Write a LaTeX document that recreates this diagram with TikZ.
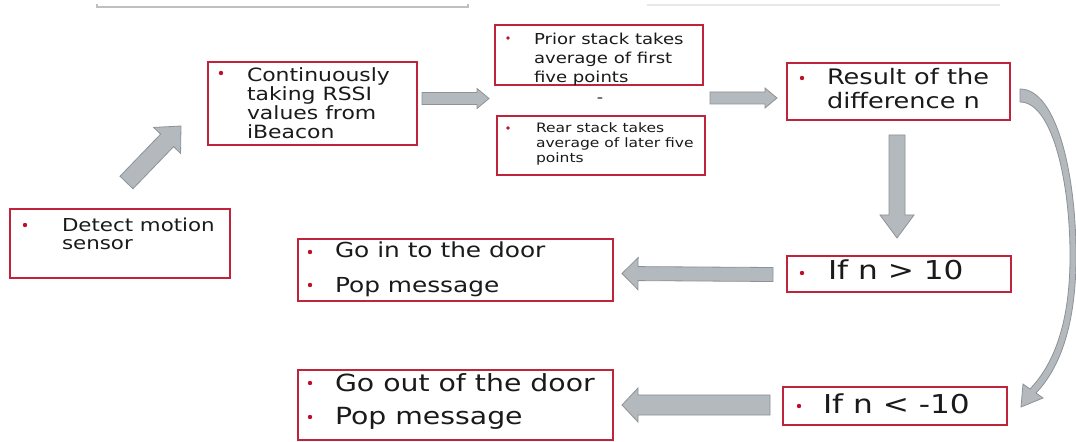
\documentclass[tikz,border=0pt]{standalone}
\usepackage{fontspec}
\setmainfont{DejaVu Sans}[FakeStretch=1.2]
\usetikzlibrary{fit,calc}
\definecolor{boxred}{RGB}{192,36,58}
\definecolor{bulred}{RGB}{192,16,40}
\definecolor{txtc}{RGB}{26,26,26}
\definecolor{afill}{RGB}{180,185,189}
\definecolor{aline}{RGB}{140,146,151}
\newcommand\fs[2]{\fontsize{#1pt}{#2pt}\selectfont}
\newcommand\ls[1]{\begin{tabular}[t]{@{}l@{}}#1\end{tabular}}
% block arrow: start, end, shaft half width, head half width, head length
\newcommand\blk[5]{%
  \coordinate (ba-s) at (#1);
  \coordinate (ba-e) at (#2);
  \coordinate (ba-b) at ($(ba-e)!#5!(ba-s)$);
  \filldraw[blkstyle] ($(ba-s)!#3!90:(ba-e)$) -- ($(ba-b)!#3!90:(ba-e)$)
    -- ($(ba-b)!#4!90:(ba-e)$) -- (ba-e) -- ($(ba-b)!#4!-90:(ba-e)$)
    -- ($(ba-b)!#3!-90:(ba-e)$) -- ($(ba-s)!#3!-90:(ba-e)$) -- cycle;}
\tikzset{
  box/.style={draw=boxred, line width=1.5pt, inner sep=0pt, outer sep=0pt},
  txtn/.style={anchor=base west, inner sep=0pt, outer sep=0pt, text=txtc},
  bul/.style={fill=bulred},
  blkstyle/.style={fill=afill, draw=aline, line width=0.6pt, line join=miter},
  topline/.style={draw=black!25, line width=1.2pt},
  topline2/.style={draw=black!9, line width=1.5pt},
}
\begin{document}
\begin{tikzpicture}[x=0.75pt,y=-0.75pt]
\useasboundingbox (0,0) rectangle (1076,442);
\fill[white] (0,0) rectangle (1076,442);

% faint lines at the top
\draw[topline] (97,4.5) -- (97,7) -- (468,7) -- (468,4.5);
\draw[topline2] (647,5) -- (1000,5);

% boxes
\node[box, fit={(10,209) (230,278)}] (A) {};
\node[box, fit={(208,62) (417,145)}] (B) {};
\node[box, fit={(495,25) (703,85)}] (C) {};
\node[box, fit={(497,116) (705,175)}] (D) {};
\node[box, fit={(787,63) (1010,120)}] (E) {};
\node[box, fit={(787,256) (1011,292)}] (F) {};
\node[box, fit={(783,387) (1007,425)}] (G) {};
\node[box, fit={(298,239) (613,301)}] (H) {};
\node[box, fit={(298,370) (613,440)}] (I) {};

% texts
\node[txtn, font=\fs{13.35}{13.5}] (tA) at (62,232) {\ls{Detect motion\\sensor}};
\node[txtn, font=\fs{13.7}{12.75}] (tB) at (247,82) {\ls{Continuously\\taking RSSI\\values from\\iBeacon}};
\node[txtn, font=\fs{11.3}{13.9}] (tC) at (534,45) {\ls{Prior stack takes\\average of first\\five points}};
\node[txtn, font=\fs{9.7}{11.25}] (tD) at (536,133) {\ls{Rear stack takes\\average of later five\\points}};
\node[txtn, font=\fs{11}{11}, anchor=center] (mn) at (600,100) {-};
\node[txtn, font=\fs{16}{17.25}] (tE) at (827,85) {\ls{Result of the\\difference n}};
\node[txtn, font=\fs{19.5}{20}] (tF) at (828,280) {If n > 10};
\node[txtn, font=\fs{19.5}{20}] (tG) at (823,413) {If n < -10};
\node[txtn, font=\fs{15.5}{26.25}] (tH) at (335,258) {\ls{Go in to the door\\Pop message}};
\node[txtn, font=\fs{17.7}{24.75}] (tI) at (335,392) {\ls{Go out of the door\\Pop message}};

% bullets
\foreach \p in {(25,225),(221,73),(802,78),(802,273),(799,406),(310,252),(310,285),(310,383),(310,417)}
  \fill[bul] \p circle (1.65pt);
\foreach \p in {(508,38),(508,128)}
  \fill[bul] \p circle (1.35pt);

% straight block arrows
\blk{$(A.north)+(6.5,-26.5)$}{$(B.south west)+(-27,-19)$}{6.75pt}{14pt}{15pt}
\blk{$(B.east)+(5,-5)$}{$($(C.south west)!.5!(D.north west)$)+(-7,-2)$}{4.5pt}{7.5pt}{9pt}
\blk{$($(C.south east)!.5!(D.north east)$)+(6,-2.5)$}{$(E.west)+(-10,6.5)$}{4.5pt}{7.5pt}{9pt}
\blk{$(E.south)+(-1.5,15)$}{$(F.north)+(-2,-18)$}{6pt}{12.75pt}{17.25pt}
\blk{$(F.west)+(-14,0.5)$}{$(H.east)+(9,3.5)$}{5.25pt}{12pt}{12pt}
\blk{$(G.west)+(-13,-1)$}{$(I.east)+(9,0)$}{7.5pt}{12.75pt}{12pt}

% curved block arrow from E to G
\coordinate (cs) at ($(E.east)+(10,-2.5)$);
\coordinate (ct) at ($(G.east)+(14,1)$);
\filldraw[blkstyle] (cs) .. controls (1058,89) and (1077,180) .. (1076,262)
  .. controls (1075,330) and (1058,370) .. (1036,393)
  -- (1043,398) -- (ct) -- (1023,384) -- (1030,389)
  .. controls (1052,366) and (1069,328) .. (1070,262)
  .. controls (1071,185) and (1053,102) .. ($(cs)+(0,13)$) -- cycle;
\end{tikzpicture}
\end{document}
